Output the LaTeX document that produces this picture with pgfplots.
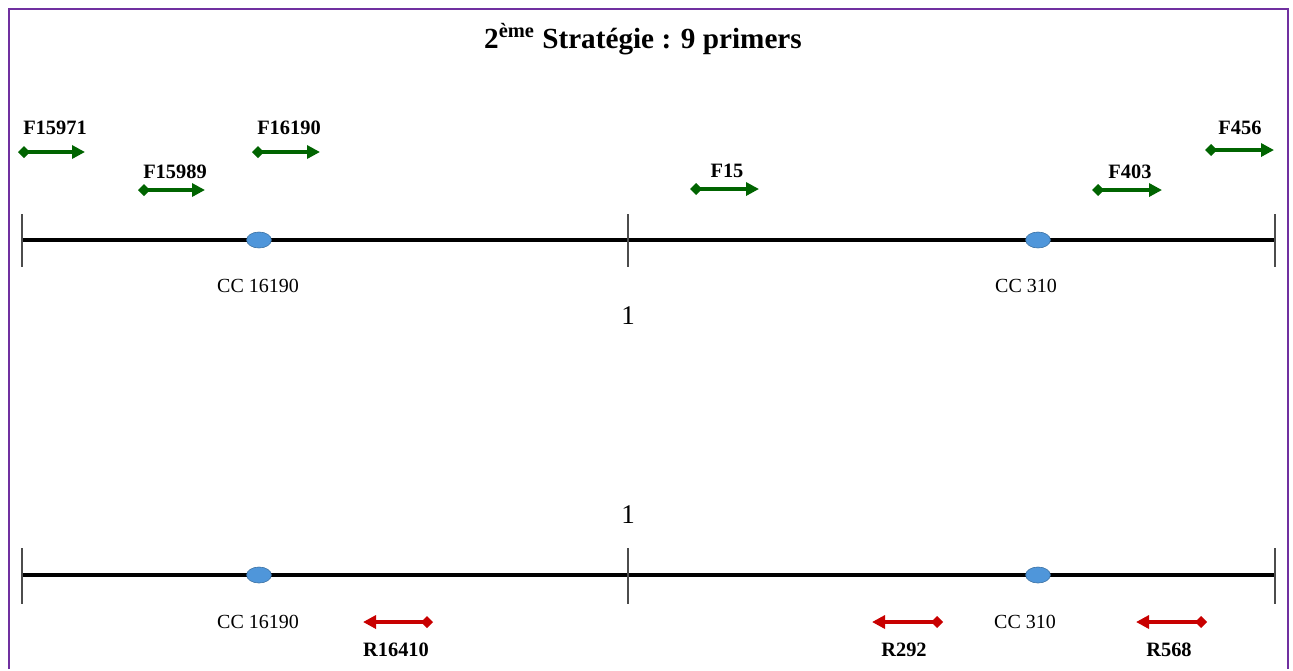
\documentclass[border=0pt]{standalone}
\usepackage{pgfplots}
\pgfplotsset{compat=1.18}
\usepackage{fontspec}
\setmainfont{Liberation Serif}
\usetikzlibrary{arrows.meta}

\definecolor{frame}{RGB}{112,48,160}
\definecolor{fgreen}{RGB}{0,100,0}
\definecolor{rred}{RGB}{200,0,0}
\definecolor{ccblue}{RGB}{79,150,218}

\begin{document}
\begin{tikzpicture}[
    fwd/.style={fgreen, line width=2.1pt, {Diamond[length=6pt,width=6pt]}-{Triangle[length=6.5pt,width=6.5pt]}},
    rev/.style={rred, line width=2.1pt, {Triangle[length=6.5pt,width=6.5pt]}-{Diamond[length=6pt,width=6pt]}},
    tck/.style={gray!60!black, line width=0.6pt},
    lab/.style={font=\fontsize{10.2}{12}\selectfont\bfseries},
    cc/.style={font=\fontsize{10}{12}\selectfont},
  ]
\begin{axis}[
    scale only axis,
    width=646.5pt, height=335pt,
    xmin=0, xmax=1293, ymin=0, ymax=670,
    y dir=reverse,
    axis lines=none,
    clip=false,
  ]
% keep the full canvas in the bounding box
\addplot[draw=none] coordinates {(0,0) (1293,670)};
% frame
\addplot[frame, line width=1.1pt] coordinates {(9,669) (9,9) (1288,9) (1288,669)};

% the two maps
\addplot[black, line width=2.4pt] coordinates {(22,240) (1275,240)};
\addplot[black, line width=2.4pt] coordinates {(22,575) (1275,575)};
% ticks
\addplot[tck] coordinates {(22,214) (22,267)};
\addplot[tck] coordinates {(628,214) (628,267)};
\addplot[tck] coordinates {(1275,214) (1275,267)};
\addplot[tck] coordinates {(22,548) (22,604)};
\addplot[tck] coordinates {(628,548) (628,604)};
\addplot[tck] coordinates {(1275,548) (1275,604)};
% CC sites
\addplot[only marks, mark=*, mark size=4pt,
  mark options={xscale=1.55, fill=ccblue, draw=ccblue!75!black, line width=0.3pt}]
  coordinates {(259,240) (1038,240) (259,575) (1038,575)};

% forward primers
\addplot[fwd] coordinates {(18,152) (85,152)};
\addplot[fwd] coordinates {(138,190) (205,190)};
\addplot[fwd] coordinates {(252,152) (320,152)};
\addplot[fwd] coordinates {(690,189) (759,189)};
\addplot[fwd] coordinates {(1092,190) (1162,190)};
\addplot[fwd] coordinates {(1205,150) (1274,150)};
% reverse primers
\addplot[rev] coordinates {(363,622) (433,622)};
\addplot[rev] coordinates {(872,622) (943,622)};
\addplot[rev] coordinates {(1136,622) (1207,622)};

% labels
\node[lab] at (axis cs:55,128) {F15971};
\node[lab] at (axis cs:175,172) {F15989};
\node[lab] at (axis cs:289,128) {F16190};
\node[lab] at (axis cs:727,171) {F15};
\node[lab] at (axis cs:1130,172) {F403};
\node[lab] at (axis cs:1240,128) {F456};
\node[lab] at (axis cs:396,650) {R16410};
\node[lab] at (axis cs:904,650) {R292};
\node[lab] at (axis cs:1169,650) {R568};

\node[cc] at (axis cs:258,286) {CC 16190};
\node[cc] at (axis cs:1026,286) {CC 310};
\node[cc] at (axis cs:258,622) {CC 16190};
\node[cc] at (axis cs:1025,622) {CC 310};

\node[font=\fontsize{13.5}{15}\selectfont] at (axis cs:628,316) {1};
\node[font=\fontsize{13.5}{15}\selectfont] at (axis cs:628,515) {1};

\node[font=\fontsize{14.6}{17}\selectfont\bfseries] at (axis cs:643,39)
  {2\textsuperscript{ème} Stratégie : 9 primers};
\end{axis}
\end{tikzpicture}
\end{document}
